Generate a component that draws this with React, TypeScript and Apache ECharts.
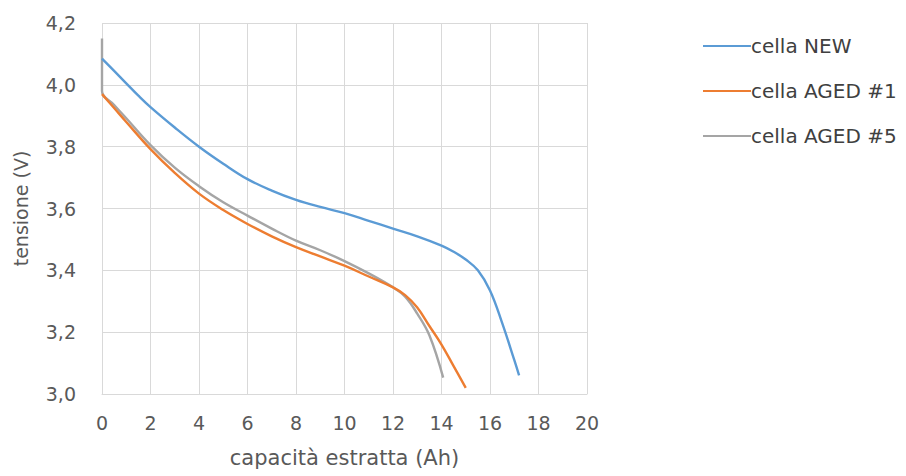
import React, { useEffect, useRef } from "react";
import * as echarts from "echarts";

const newX = [0, 0.5, 1, 1.5, 2, 3, 4, 5, 6, 7, 8, 9, 10, 11, 12, 13, 14, 14.5, 15, 15.5, 16, 16.5, 17, 17.2];
const newY = [4.085, 4.045, 4.005, 3.965, 3.928, 3.862, 3.8, 3.745, 3.695, 3.658, 3.628, 3.605, 3.585, 3.56, 3.535, 3.51, 3.48, 3.46, 3.435, 3.4, 3.335, 3.23, 3.11, 3.06];

const aged1X = [0, 0.5, 1, 2, 3, 4, 5, 6, 7, 8, 9, 10, 11, 12, 12.5, 13, 13.5, 14, 14.5, 15];
const aged1Y = [3.97, 3.925, 3.88, 3.792, 3.715, 3.648, 3.595, 3.55, 3.51, 3.475, 3.445, 3.415, 3.38, 3.345, 3.32, 3.28, 3.22, 3.16, 3.09, 3.02];

const aged5X = [0, 0, 0.5, 1, 2, 3, 4, 5, 6, 7, 8, 9, 10, 11, 12, 12.5, 13, 13.5, 14.07];
const aged5Y = [4.15, 3.98, 3.935, 3.892, 3.805, 3.732, 3.672, 3.62, 3.577, 3.535, 3.496, 3.465, 3.43, 3.39, 3.345, 3.315, 3.26, 3.19, 3.053];

const seriesNames = ["cella NEW", "cella AGED #1", "cella AGED #5"];
const colors = ["#5B9BD5", "#ED7D31", "#A5A5A5"];

const zip = (xs: number[], ys: number[]) => xs.map((x, i) => [x, ys[i]]);

export default function App() {
  const ref = useRef<HTMLDivElement>(null);
  useEffect(() => {
    if (!ref.current) return;
    const chart = echarts.init(ref.current, undefined, { renderer: "svg" });
    const font = "'DejaVu Sans', sans-serif";
    const datasets = [zip(newX, newY), zip(aged1X, aged1Y), zip(aged5X, aged5Y)];
    chart.setOption({
      animation: false,
      backgroundColor: "#ffffff",
      textStyle: { fontFamily: font },
      grid: { left: 102, right: 319, top: 23, bottom: 82, containLabel: false },
      legend: {
        orient: "vertical",
        left: 698,
        top: 31,
        itemGap: 25,
        itemWidth: 48,
        itemHeight: 2,
        icon: "rect",
        textStyle: { fontSize: 20, color: "#404040", fontFamily: font, padding: [0, 0, 0, -5] },
        data: seriesNames,
      },
      xAxis: {
        type: "value",
        min: 0,
        max: 20,
        interval: 2,
        name: "capacità estratta (Ah)",
        nameLocation: "middle",
        nameGap: 53,
        nameTextStyle: { fontSize: 21, color: "#595959", fontFamily: font },
        axisLine: { show: true, lineStyle: { color: "#d9d9d9" } },
        axisTick: { show: false },
        axisLabel: { fontSize: 19, color: "#595959", margin: 19, fontFamily: font },
        splitLine: { show: true, lineStyle: { color: "#d9d9d9", width: 1 } },
      },
      yAxis: {
        type: "value",
        min: 3.0,
        max: 4.2,
        interval: 0.2,
        name: "tensione (V)",
        nameLocation: "middle",
        nameGap: 72,
        nameRotate: 90,
        nameTextStyle: { fontSize: 19, color: "#595959", fontFamily: font },
        axisLine: { show: false },
        axisTick: { show: false },
        axisLabel: {
          fontSize: 19,
          color: "#595959",
          margin: 26,
          fontFamily: font,
          formatter: (v: number) => v.toFixed(1).replace(".", ","),
        },
        splitLine: { show: true, lineStyle: { color: "#d9d9d9", width: 1 } },
      },
      series: datasets.map((d, i) => ({
        name: seriesNames[i],
        type: "line",
        data: d,
        showSymbol: false,
        symbol: "none",
        smooth: 0.4,
        lineStyle: { color: colors[i], width: 2.4 },
        itemStyle: { color: colors[i] },
        z: 3 - i,
      })),
    });
    return () => chart.dispose();
  }, []);
  return <div ref={ref} style={{ width: 906, height: 476, position: "absolute", left: 0, top: 0 }} />;
}
